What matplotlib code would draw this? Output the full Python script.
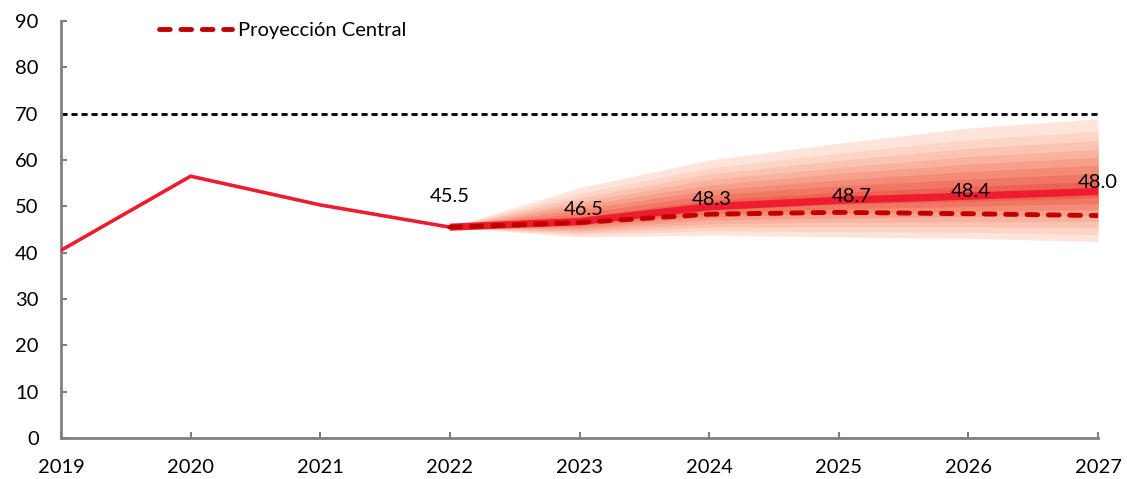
import matplotlib.pyplot as plt

# historical series
hist_years = [2019, 2020, 2021, 2022]
hist_vals = [40.5, 56.5, 50.3, 45.5]

# projection years
proj_years = [2022, 2023, 2024, 2025, 2026, 2027]
central = [45.5, 46.5, 48.3, 48.7, 48.4, 48.0]   # Proyección Central
fan_mid = [45.5, 46.7, 49.9, 51.3, 52.2, 53.2]   # middle of the fan

# fan band edges, outermost band first
fan_upper = [
    [45.5, 54.0, 60.0, 63.6, 66.9, 68.9],
    [45.5, 52.8, 58.3, 61.5, 64.4, 66.2],
    [45.5, 51.8, 57.0, 59.9, 62.5, 64.2],
    [45.5, 50.9, 55.8, 58.4, 60.7, 62.3],
    [45.5, 50.1, 54.6, 57.1, 59.1, 60.6],
    [45.5, 49.3, 53.5, 55.7, 57.5, 58.9],
    [45.5, 48.5, 52.4, 54.4, 55.9, 57.1],
    [45.5, 47.7, 51.3, 53.0, 54.3, 55.4],
]
fan_lower = [
    [45.5, 43.4, 43.8, 43.4, 43.1, 42.4],
    [45.5, 43.9, 44.7, 44.5, 44.4, 43.9],
    [45.5, 44.3, 45.5, 45.6, 45.6, 45.4],
    [45.5, 44.7, 46.2, 46.6, 46.7, 46.7],
    [45.5, 45.1, 47.0, 47.5, 47.8, 48.0],
    [45.5, 45.5, 47.7, 48.5, 48.9, 49.3],
    [45.5, 45.9, 48.4, 49.4, 50.0, 50.6],
    [45.5, 46.3, 49.2, 50.4, 51.1, 51.9],
]
fan_colors = ['#fde5dc', '#fcd5c7', '#fbc4b2', '#f9b29e', '#f79f8a',
              '#f48b77', '#f17765', '#ee6254']

limit = 70

plt.rcParams['font.family'] = ['Lato', 'DejaVu Sans']

fig = plt.figure(figsize=(11.27, 4.79), dpi=100)
ax = fig.add_axes([0.0541, 0.0856, 0.9202, 0.8706])

for up, lo, c in zip(fan_upper, fan_lower, fan_colors):
    ax.fill_between(proj_years, lo, up, color=c, lw=0, zorder=1)

ax.plot(proj_years, fan_mid, color='#ed1c2e', lw=5.2, zorder=2,
        solid_capstyle='butt')
ax.plot(hist_years, hist_vals, color='#ed1c2e', lw=2.6, zorder=3)
ax.plot(proj_years, central, color='#c00000', lw=3.5, ls=(0, (2.2, 2.2)),
        zorder=4, label='Proyección Central', dash_capstyle='round')
ax.axhline(limit, color='black', lw=2.0, ls=(0, (2.2, 1.4)), zorder=2)

# value labels over the fan
label_offsets = [22, 9, 5, 3, 3.5, 6.5]
label_dx = [0, 3, 2, 9, 2, 0]
for x, y, v, dy, dx in zip(proj_years, fan_mid, central, label_offsets, label_dx):
    ax.annotate(f'{v:.1f}', (x, y), xytext=(dx, dy), textcoords='offset points',
                ha='center', va='center', fontsize=14.5, zorder=5)

ax.set_xlim(2019, 2027)
ax.set_ylim(0, 90)
ax.set_xticks(range(2019, 2028))
ax.set_yticks(range(0, 91, 10))

for s in ['top', 'right']:
    ax.spines[s].set_visible(False)
for s in ['left', 'bottom']:
    ax.spines[s].set_color('#808080')
    ax.spines[s].set_linewidth(2.0)

ax.tick_params(axis='both', direction='in', color='#808080', width=1.5,
               length=4, labelsize=14.5)
ax.tick_params(axis='x', pad=15)
ax.tick_params(axis='y', pad=16)

ax.legend(loc='center left', bbox_to_anchor=(0.095, 0.978), frameon=False,
          fontsize=14.5, handlelength=3.6, handletextpad=0.3, borderpad=0,
          borderaxespad=0)

fig.savefig('out.png', dpi=100)
